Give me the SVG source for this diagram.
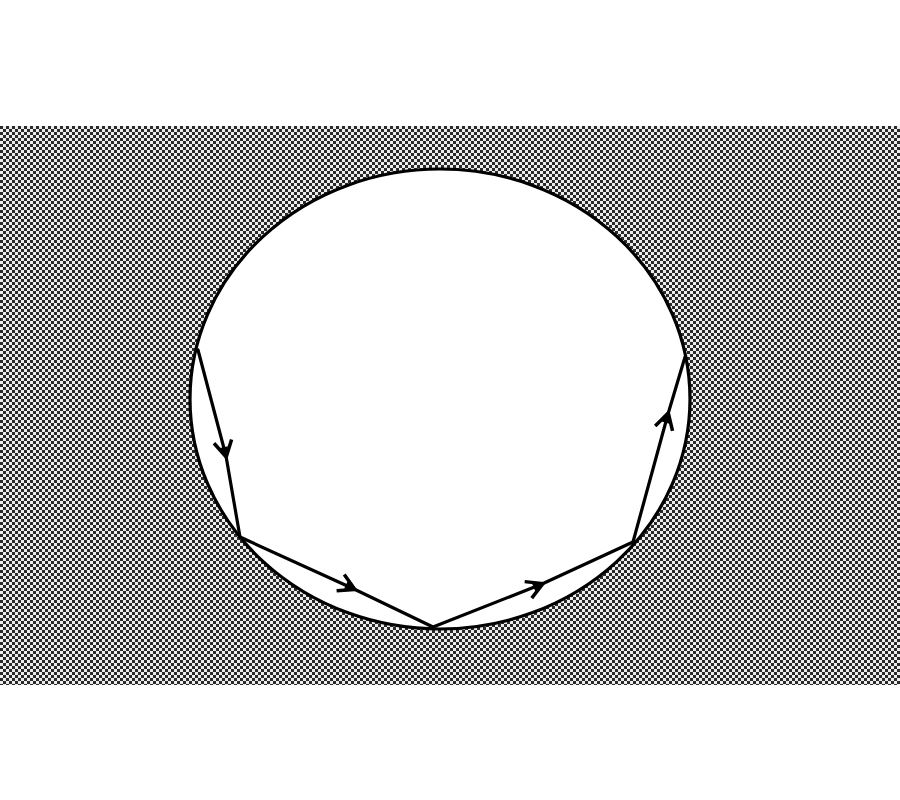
<svg xmlns="http://www.w3.org/2000/svg" width="900" height="800" viewBox="0 0 900 800">
<style>
.edge{fill:none;stroke:#000;stroke-width:3.2;stroke-linecap:round;stroke-linejoin:round}
</style>
<defs>
<pattern id="dither" width="6" height="6" patternUnits="userSpaceOnUse">
<rect width="6" height="6" fill="#ececec"/>
<rect width="3" height="3" fill="#2a2a2a"/>
<rect x="3" y="3" width="3" height="3" fill="#2a2a2a"/>
</pattern>
<marker id="arr" viewBox="-18 -12 22 24" markerWidth="22" markerHeight="24" refX="0" refY="0" orient="auto" markerUnits="userSpaceOnUse">
<path d="M-15,-9 L1,0 L-15,9" fill="none" stroke="#000" stroke-width="3.5" stroke-linejoin="miter"/>
<path d="M-9,-4 L1,0 L-9,4 Z" fill="#000"/>
</marker>
</defs>
<rect id="background" x="0" y="126" width="900" height="559" fill="url(#dither)"/>
<g id="circle">
<ellipse cx="440" cy="399" rx="250" ry="230" fill="#fff" stroke="#000" stroke-width="3.2"/>
</g>
<g id="connectors">
<path class="edge" d="M198,350 L226,456 L240,537" marker-mid="url(#arr)"/>
<path class="edge" d="M240,537 L354,589 L433,627" marker-mid="url(#arr)"/>
<path class="edge" d="M433,627 L542,584 L633,542" marker-mid="url(#arr)"/>
<path class="edge" d="M633,542 L668,414 L685,357" marker-mid="url(#arr)"/>
</g>
</svg>
